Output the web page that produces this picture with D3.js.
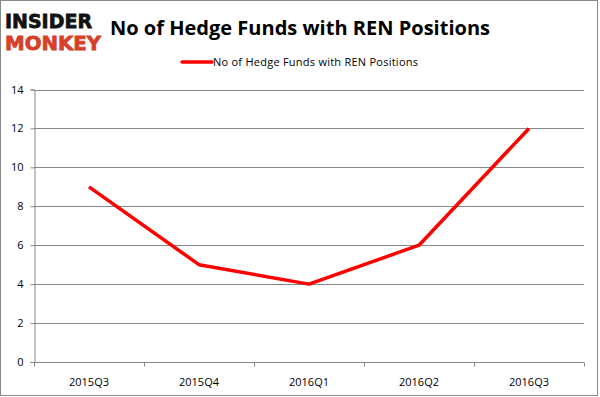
<!DOCTYPE html>
<html>
<head>
<meta charset="utf-8">
<script src="https://cdn.jsdelivr.net/npm/d3@7"></script>
<style>
  body { margin: 0; background: #fff; }
  svg { display: block; font-family: "Liberation Sans", Arial, sans-serif; }
</style>
</head>
<body>
<div id="chart"></div>
<script>
var quarters = ['2015Q3', '2015Q4', '2016Q1', '2016Q2', '2016Q3'];
var funds = [9, 5, 4, 6, 12];
var yTicks = [0, 2, 4, 6, 8, 10, 12, 14];
var seriesName = 'No of Hedge Funds with REN Positions';

var width = 600, height = 397;
var plotLeft = 34, plotRight = 584, plotTop = 89.5, plotBottom = 362;

var svg = d3.select('#chart').append('svg')
    .attr('width', width)
    .attr('height', height);

// outer frame
svg.append('rect')
    .attr('x', 0.5).attr('y', 0.5)
    .attr('width', 597).attr('height', 395)
    .attr('fill', 'none')
    .attr('stroke', '#888');

var x = d3.scaleBand().domain(quarters).range([plotLeft, plotRight]);
var y = d3.scaleLinear().domain([0, 14]).range([plotBottom, plotTop]);

// gridlines
svg.selectAll('line.grid')
    .data(yTicks)
    .enter().append('line')
    .attr('class', 'grid')
    .attr('x1', plotLeft).attr('x2', plotRight)
    .attr('y1', function(d) { return Math.round(y(d)) + 0.5; })
    .attr('y2', function(d) { return Math.round(y(d)) + 0.5; })
    .attr('stroke', '#888')
    .attr('stroke-width', 1);

// y axis
var yAxis = svg.append('g')
    .attr('transform', 'translate(' + (plotLeft + 0.5) + ',0)')
    .call(d3.axisLeft(y).tickValues(yTicks).tickSize(4).tickPadding(7));
yAxis.select('.domain').attr('stroke', '#888');
yAxis.selectAll('.tick line').attr('stroke', '#888');
yAxis.selectAll('.tick text')
    .attr('fill', '#000')
    .style('font-size', '11px')
    .style('font-family', '"Open Sans", "Liberation Sans", sans-serif');

// x axis, ticks at band edges
var xAxis = svg.append('g')
    .attr('transform', 'translate(0,' + (plotBottom + 0.5) + ')');
xAxis.append('line')
    .attr('x1', plotLeft).attr('x2', plotRight)
    .attr('stroke', '#888');
var edges = quarters.map(function(q) { return x(q); }).concat([plotRight]);
xAxis.selectAll('line.tk')
    .data(edges)
    .enter().append('line')
    .attr('class', 'tk')
    .attr('x1', function(d) { return Math.round(d) + 0.5; })
    .attr('x2', function(d) { return Math.round(d) + 0.5; })
    .attr('y1', 0).attr('y2', 4)
    .attr('stroke', '#888');
xAxis.selectAll('text')
    .data(quarters)
    .enter().append('text')
    .attr('x', function(d) { return x(d) + x.bandwidth() / 2; })
    .attr('y', 23)
    .attr('text-anchor', 'middle')
    .style('font-size', '11px')
    .style('font-family', '"Open Sans", "Liberation Sans", sans-serif')
    .text(function(d) { return d; });

// series line
var line = d3.line()
    .x(function(d, i) { return x(quarters[i]) + x.bandwidth() / 2; })
    .y(function(d) { return y(d); });

svg.append('path')
    .datum(funds)
    .attr('d', line)
    .attr('fill', 'none')
    .attr('stroke', '#ff0000')
    .attr('stroke-width', 3.5)
    .attr('stroke-linejoin', 'round');

// title
svg.append('text')
    .attr('x', 110).attr('y', 35)
    .style('font-size', '20px')
    .style('font-weight', 'bold')
    .style('font-family', '"Open Sans", "Liberation Sans", sans-serif')
    .attr('textLength', 380)
    .text(seriesName);

// legend
svg.append('line')
    .attr('x1', 182).attr('x2', 212)
    .attr('y1', 62).attr('y2', 62)
    .attr('stroke', '#ff0000')
    .attr('stroke-width', 3.5)
    .attr('stroke-linecap', 'round');
svg.append('text')
    .attr('x', 213).attr('y', 66)
    .style('font-size', '11px')
    .style('font-family', '"Open Sans", "Liberation Sans", sans-serif')
    .attr('textLength', 205)
    .text(seriesName);

// logo
svg.append('text')
    .attr('x', 5).attr('y', 28)
    .style('font-size', '20px')
    .style('font-weight', '900')
    .style('font-family', '"DejaVu Sans", sans-serif')
    .attr('textLength', 87)
    .attr('lengthAdjust', 'spacingAndGlyphs')
    .attr('fill', '#111')
    .attr('stroke', '#111')
    .attr('stroke-width', 0.8)
    .text('INSIDER');
svg.append('text')
    .attr('x', 5).attr('y', 50)
    .style('font-size', '20px')
    .style('font-weight', '900')
    .style('font-family', '"DejaVu Sans", sans-serif')
    .attr('textLength', 96)
    .attr('lengthAdjust', 'spacingAndGlyphs')
    .attr('fill', '#d6402b')
    .attr('stroke', '#d6402b')
    .attr('stroke-width', 0.8)
    .text('MONKEY');
</script>
</body>
</html>
